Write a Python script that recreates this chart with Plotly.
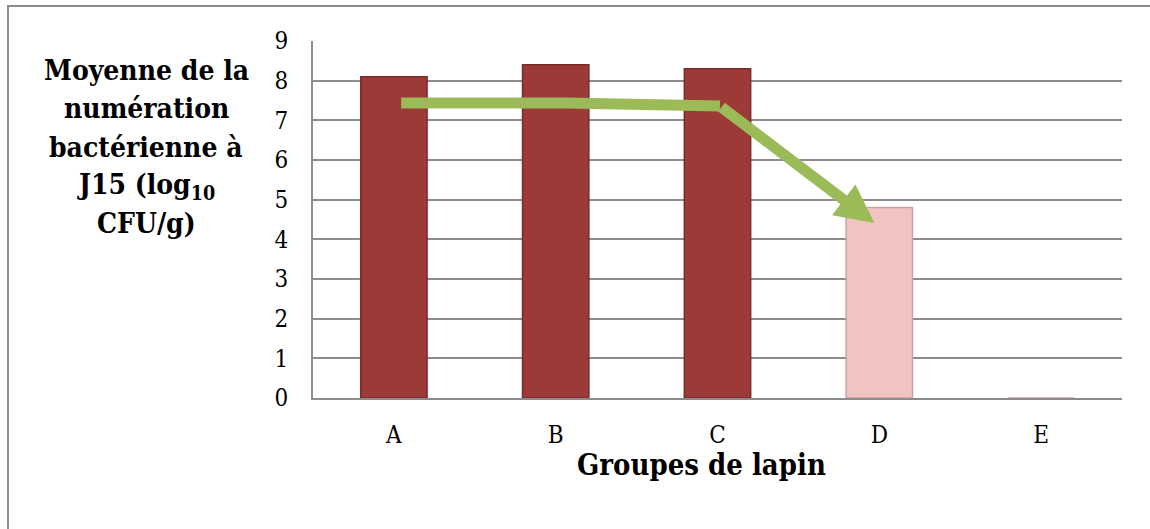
import plotly.graph_objects as go

# ---- data ----
categories = ["A", "B", "C", "D", "E"]
values = [8.1, 8.4, 8.3, 4.8, 0.0]
bar_colors = ["#9C3A38", "#9C3A38", "#9C3A38", "#F2C3C3", "#F2C3C3"]
bar_edges = ["#7A2B29", "#7A2B29", "#7A2B29", "#C9A3A3", "#C9A3A3"]
y_ticks = [0, 1, 2, 3, 4, 5, 6, 7, 8, 9]

# trend arrow (x in category index units, y in log10 CFU/g)
arrow_x = [0.045, 1.07, 2.015, 2.97]
arrow_y = [7.44, 7.44, 7.36, 4.41]

y_title_lines = ["Moyenne de la", "numération", "bactérienne à",
                 "J15 (log<sub>10</sub>", "CFU/g)"]
x_title = "Groupes de lapin"

SERIF = "DejaVu Serif Condensed, DejaVu Serif, serif"
GRID = "#8C8C8C"
GREEN = "#9BBB59"

x_pos = list(range(len(categories)))

fig = go.Figure()
fig.add_trace(go.Bar(
    x=x_pos, y=values, width=0.41,
    marker=dict(color=bar_colors, line=dict(color=bar_edges, width=1.5)),
    hoverinfo="skip", showlegend=False,
))
# green polyline (all but the last segment)
fig.add_trace(go.Scatter(
    x=arrow_x[:-1], y=arrow_y[:-1], mode="lines",
    line=dict(color=GREEN, width=11),
    hoverinfo="skip", showlegend=False,
))
# final segment with arrow head
fig.add_annotation(
    x=arrow_x[-1], y=arrow_y[-1], ax=arrow_x[-2], ay=arrow_y[-2],
    xref="x", yref="y", axref="x", ayref="y",
    text="", showarrow=True, arrowhead=2, arrowsize=0.7,
    arrowwidth=11, arrowcolor=GREEN, standoff=0,
)

W, H = 1150, 529
L, R, T, B = 313, 28, 41, 131
pw, ph = W - L - R, H - T - B
def px_to_paper_x(px):
    return (px - L) / pw
def py_to_paper_y(py):
    return (H - B - py) / ph

baselines = [80, 118.5, 157, 196, 234]
for line, bl in zip(y_title_lines, baselines):
    fig.add_annotation(
        text=line, x=px_to_paper_x(146), y=py_to_paper_y(bl - 10),
        xref="paper", yref="paper", showarrow=False,
        xanchor="center", yanchor="middle",
        font=dict(family=SERIF, size=28, color="#000000", weight="bold"),
    )

fig.add_annotation(
    text=x_title, x=px_to_paper_x(701), y=py_to_paper_y(465),
    xref="paper", yref="paper", showarrow=False,
    xanchor="center", yanchor="middle",
    font=dict(family=SERIF, size=29, color="#000000", weight="bold"),
)

# outer border (chart area frame, cut off at right/bottom)
fig.add_shape(
    type="rect", xref="paper", yref="paper",
    x0=px_to_paper_x(8), x1=px_to_paper_x(1160),
    y0=py_to_paper_y(540), y1=py_to_paper_y(6),
    line=dict(color=GRID, width=2), fillcolor="rgba(0,0,0,0)", layer="below",
)

fig.update_layout(
    width=W, height=H,
    margin=dict(l=L, r=R, t=T, b=B),
    paper_bgcolor="white", plot_bgcolor="white",
    bargap=0.59,
)
fig.update_xaxes(
    range=[-0.5, 4.5], tickvals=x_pos, ticktext=categories,
    showgrid=False, zeroline=False,
    showline=True, linecolor=GRID, linewidth=2,
    ticks="", ticklabelstandoff=14,
    tickfont=dict(family=SERIF, size=24, color="#000000"),
    fixedrange=True,
)
fig.update_yaxes(
    range=[0, 9], tickvals=y_ticks,
    showgrid=True, gridcolor=GRID, gridwidth=2,
    zeroline=False, showline=True, linecolor=GRID, linewidth=2, mirror=False,
    ticks="", ticklabelstandoff=18,
    tickfont=dict(family=SERIF, size=24, color="#000000"),
    fixedrange=True,
)

fig.write_html("out.html",
               config={"displayModeBar": False, "staticPlot": True},
               post_script="document.body.style.margin='0';document.body.style.padding='0';")
